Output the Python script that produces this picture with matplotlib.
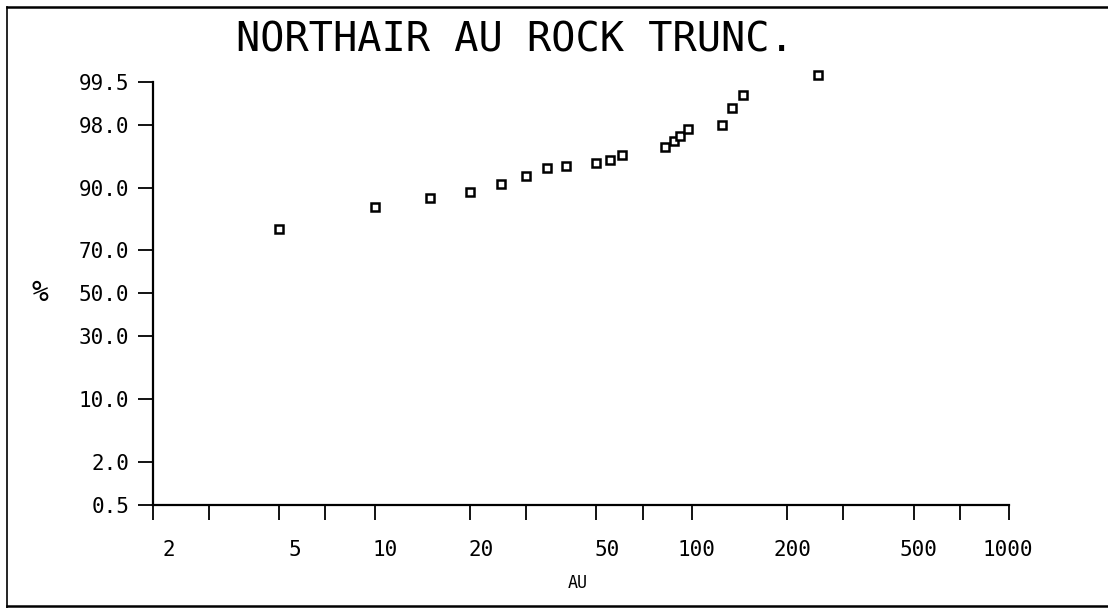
import numpy as np
import matplotlib
matplotlib.use("Agg")
import matplotlib.pyplot as plt
from matplotlib.transforms import ScaledTranslation
from matplotlib.lines import Line2D
from statistics import NormalDist

# ---- data ----
au_values = [5, 10, 15, 20, 25, 30, 35, 40, 50, 55, 60, 82, 88, 92, 97, 124, 134, 145, 250]
cum_pct = [78.3, 85.4, 87.7, 89.1, 90.8, 92.3, 93.6, 94.0, 94.3, 94.8, 95.4,
           96.3, 96.8, 97.2, 97.7, 98.0, 98.8, 99.2, 99.6]

y_ticks = [0.5, 2.0, 10.0, 30.0, 50.0, 70.0, 90.0, 98.0, 99.5]
x_major = [2, 5, 10, 20, 50, 100, 200, 500, 1000]
x_minor = [3, 7, 30, 70, 300, 700]
x_label_dx = [16, 16, 11, 11, 11, 5, 5, 5, -2]  # px offsets of tick labels

title = "NORTHAIR AU ROCK TRUNC."
xlabel = "AU"
ylabel = "%"

# ---- probability scale ----
_nd = NormalDist()


def _ppf1(p):
    if not np.isfinite(p):
        return np.nan
    return _nd.inv_cdf(min(max(p / 100.0, 1e-9), 1 - 1e-9))


def _cdf1(z):
    if not np.isfinite(z):
        return 0.0 if z < 0 else 100.0
    return _nd.cdf(z) * 100.0


_ppf = np.vectorize(_ppf1, otypes=[float])
_cdf = np.vectorize(_cdf1, otypes=[float])


def fwd(p):
    return _ppf(np.asarray(p, dtype=float))


def inv(z):
    return _cdf(np.asarray(z, dtype=float))


mono = "DejaVu Sans Mono"
plt.rcParams["font.family"] = [mono, "DejaVu Sans"]

W, H = 1108, 608
fig = plt.figure(figsize=(W / 100, H / 100), dpi=100)
ax = fig.add_axes([152.7 / W, 1 - 505 / H, (1009.3 - 152.7) / W, (505 - 81.7) / H])

ax.set_xscale("log")
ax.set_yscale("function", functions=(fwd, inv))
ax.set_xlim(2, 1000)
ax.set_ylim(0.5, 99.5)

ax.plot(au_values, cum_pct, linestyle="none", marker="s", markersize=6,
        markerfacecolor="white", markeredgecolor="black", markeredgewidth=1.8,
        clip_on=False, zorder=5)

for s in ["top", "right"]:
    ax.spines[s].set_visible(False)
for s in ["left", "bottom"]:
    ax.spines[s].set_linewidth(1.6)

ax.set_yticks(y_ticks)
ax.set_yticklabels([f"{v:.1f}" for v in y_ticks])
ax.yaxis.set_minor_locator(matplotlib.ticker.NullLocator())
ax.tick_params(axis="y", which="both", direction="out", length=11, width=1.3,
               pad=6, labelsize=15)

ax.set_xticks(x_major)
ax.set_xticklabels([str(v) for v in x_major])
ax.set_xticks(x_minor, minor=True)
ax.xaxis.set_minor_formatter(matplotlib.ticker.NullFormatter())
ax.tick_params(axis="x", which="both", direction="out", length=11, width=1.3,
               pad=14, labelsize=15)
for lab, dx in zip(ax.get_xticklabels(), x_label_dx):
    lab.set_transform(lab.get_transform() + ScaledTranslation(dx / 100, 0, fig.dpi_scale_trans))

fig.text(515 / W, 1 - 40 / H, title, ha="center", va="center", fontsize=29, family=mono)
fig.text(578 / W, 1 - 583 / H, xlabel, ha="center", va="center", fontsize=12, family=mono)
fig.text(40 / W, 1 - 293 / H, ylabel, ha="center", va="center", fontsize=20, family=mono)

# outer frame lines
fig.add_artist(Line2D([7 / W, 7 / W], [0, 1 - 7 / H], color="black", lw=1.2))
fig.add_artist(Line2D([7 / W, 1], [1 - 7 / H, 1 - 7 / H], color="black", lw=1.8))
fig.add_artist(Line2D([7 / W, 1], [1 - 606 / H, 1 - 606 / H], color="black", lw=1.8))

fig.savefig("out.png", dpi=100)
